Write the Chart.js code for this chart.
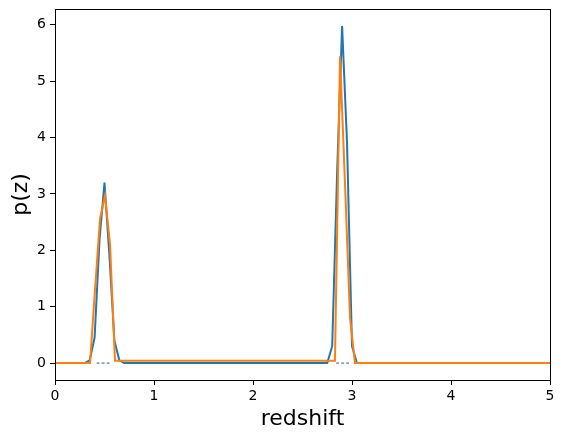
<!DOCTYPE html>
<html>
<head>
<meta charset="utf-8">
<script src="https://cdn.jsdelivr.net/npm/chart.js@4"></script>
<style>
  body { margin: 0; background: #fff; }
  canvas { display: block; }
</style>
</head>
<body>
<canvas id="pz" width="564" height="438"></canvas>
<script>
// blue curve (vertices)
const blueZ = [0, 0.3, 0.35, 0.4, 0.45, 0.5, 0.55, 0.6, 0.65, 0.7, 2.75, 2.8, 2.85, 2.9, 2.95, 3.0, 3.05, 5.0];
const blueP = [0, 0, 0.05, 0.45, 2.2, 3.2, 1.9, 0.4, 0.05, 0, 0, 0.3, 3.4, 5.98, 3.9, 0.3, 0, 0];

// orange curve
const orangeZ = [0, 0.354, 0.404, 0.455, 0.505, 0.556, 0.606, 2.828, 2.879, 2.929, 2.980, 3.030, 5.0];
const orangeP = [0, 0, 1.3, 2.56, 2.97, 2.1, 0.04, 0.04, 5.44, 3.2, 0.8, 0, 0];

// thin dashed segments on the zero line
const dashZ = [0.42, 0.57, 1.5, 2.84, 2.97];
const dashP = [0, 0, null, 0, 0];

const xTicks = [0, 1, 2, 3, 4, 5];
const yTicks = [0, 1, 2, 3, 4, 5, 6];

const toPoints = (zs, ps) => zs.map((z, i) => ({ x: z, y: ps[i] }));

const frameBox = {
    id: 'frameBox',
    afterDatasetsDraw(chart) {
        const a = chart.chartArea;
        const ctx = chart.ctx;
        ctx.save();
        ctx.strokeStyle = '#000';
        ctx.lineWidth = 1;
        ctx.strokeRect(Math.round(a.left) + 0.5, Math.round(a.top) + 0.5,
            Math.round(a.right - a.left), Math.round(a.bottom - a.top));
        ctx.restore();
    }
};

const font = 'DejaVu Sans';

new Chart(document.getElementById('pz'), {
    type: 'line',
    data: {
        // orange is drawn on top, so it goes first
        datasets: [
            {
                data: toPoints(orangeZ, orangeP),
                borderColor: '#ff7f0e',
                borderWidth: 2,
                pointRadius: 0,
                tension: 0
            },
            {
                data: toPoints(blueZ, blueP),
                borderColor: '#1f77b4',
                borderWidth: 2,
                pointRadius: 0,
                tension: 0
            },
            {
                data: toPoints(dashZ, dashP),
                borderColor: '#2c5f8a',
                borderWidth: 1,
                borderDash: [3, 2],
                pointRadius: 0,
                spanGaps: false
            }
        ]
    },
    options: {
        responsive: false,
        animation: false,
        layout: { padding: { top: 9, right: 14, left: 0, bottom: 0 } },
        plugins: {
            legend: { display: false },
            tooltip: { enabled: false }
        },
        scales: {
            x: {
                type: 'linear',
                min: 0,
                max: 5,
                afterBuildTicks: axis => { axis.ticks = xTicks.map(v => ({ value: v })); },
                afterFit: axis => { axis.height = 58; axis.paddingLeft = 0; axis.paddingRight = 0; },
                grid: { drawOnChartArea: false, tickLength: 5, color: '#000' },
                border: { display: false },
                ticks: { color: '#000', font: { family: font, size: 14 }, padding: 3, maxRotation: 0 },
                title: {
                    display: true,
                    text: 'redshift',
                    color: '#000',
                    font: { family: font, size: 22 },
                    padding: { top: 0, bottom: 6 }
                }
            },
            y: {
                type: 'linear',
                min: -0.3,
                max: 6.28,
                afterBuildTicks: axis => { axis.ticks = yTicks.map(v => ({ value: v })); },
                afterFit: axis => { axis.width = 55; axis.paddingTop = 0; axis.paddingBottom = 0; },
                grid: { drawOnChartArea: false, tickLength: 5, color: '#000' },
                border: { display: false },
                ticks: { color: '#000', font: { family: font, size: 14 }, padding: 4 },
                title: {
                    display: true,
                    text: 'p(z)',
                    color: '#000',
                    font: { family: font, size: 22 },
                    padding: { top: 8, bottom: 0 }
                }
            }
        }
    },
    plugins: [frameBox]
});
</script>
</body>
</html>
